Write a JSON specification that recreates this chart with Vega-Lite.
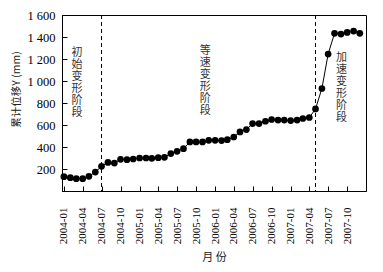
{
  "$schema": "https://vega.github.io/schema/vega-lite/v6.json",
  "width": 304,
  "height": 176,
  "autosize": {"type": "none"},
  "padding": {"left": 62, "top": 15, "right": 17, "bottom": 81},
  "background": "white",
  "config": {
    "view": {"stroke": "black", "strokeWidth": 1},
    "axis": {
      "grid": false,
      "domainColor": "black",
      "tickColor": "black",
      "labelColor": "black",
      "titleColor": "#222",
      "titleFontWeight": "normal",
      "labelFont": "Liberation Serif",
      "titleFont": "Noto Sans CJK SC",
      "labelOverlap": false,
      "tickSize": -5
    }
  },
  "datasets": {
    "main": [
      {"date": "2004-01-01", "value": 130},
      {"date": "2004-02-01", "value": 121},
      {"date": "2004-03-01", "value": 112},
      {"date": "2004-04-01", "value": 112},
      {"date": "2004-05-01", "value": 133},
      {"date": "2004-06-01", "value": 172},
      {"date": "2004-07-01", "value": 224},
      {"date": "2004-08-01", "value": 260},
      {"date": "2004-09-01", "value": 254},
      {"date": "2004-10-01", "value": 288},
      {"date": "2004-11-01", "value": 285},
      {"date": "2004-12-01", "value": 291},
      {"date": "2005-01-01", "value": 300},
      {"date": "2005-02-01", "value": 300},
      {"date": "2005-03-01", "value": 297},
      {"date": "2005-04-01", "value": 303},
      {"date": "2005-05-01", "value": 306},
      {"date": "2005-06-01", "value": 340},
      {"date": "2005-07-01", "value": 361},
      {"date": "2005-08-01", "value": 385},
      {"date": "2005-09-01", "value": 446},
      {"date": "2005-10-01", "value": 446},
      {"date": "2005-11-01", "value": 446},
      {"date": "2005-12-01", "value": 461},
      {"date": "2006-01-01", "value": 461},
      {"date": "2006-02-01", "value": 458},
      {"date": "2006-03-01", "value": 467},
      {"date": "2006-04-01", "value": 491},
      {"date": "2006-05-01", "value": 537},
      {"date": "2006-06-01", "value": 558},
      {"date": "2006-07-01", "value": 613},
      {"date": "2006-08-01", "value": 613},
      {"date": "2006-09-01", "value": 634},
      {"date": "2006-10-01", "value": 650},
      {"date": "2006-11-01", "value": 645},
      {"date": "2006-12-01", "value": 645},
      {"date": "2007-01-01", "value": 640},
      {"date": "2007-02-01", "value": 645},
      {"date": "2007-03-01", "value": 659},
      {"date": "2007-04-01", "value": 668},
      {"date": "2007-05-01", "value": 746},
      {"date": "2007-06-01", "value": 932},
      {"date": "2007-07-01", "value": 1245},
      {"date": "2007-08-01", "value": 1433},
      {"date": "2007-09-01", "value": 1427},
      {"date": "2007-10-01", "value": 1442},
      {"date": "2007-11-01", "value": 1454},
      {"date": "2007-12-01", "value": 1433}
    ],
    "stages": [
      {"date": "2004-07-01"},
      {"date": "2007-05-01"}
    ],
    "labels": [
      {"date": "2004-03-04", "value": 1310, "label": "初\n始\n变\n形\n阶\n段"},
      {"date": "2005-11-14", "value": 1330, "label": "等\n速\n变\n形\n阶\n段"},
      {"date": "2007-09-04", "value": 1265, "label": "加\n速\n变\n形\n阶\n段"}
    ]
  },
  "encoding": {
    "x": {
      "field": "date",
      "type": "temporal",
      "scale": {"type": "utc", "domain": [{"year": 2003, "month": 12, "date": 23, "utc": true}, {"year": 2007, "month": 12, "date": 31, "utc": true}]},
      "axis": {
        "title": "月 份",
        "titleFontSize": 11,
        "titleY": 66,
        "titleBaseline": "middle",
        "format": "%Y-%m",
        "tickCount": {"interval": "month", "step": 3},
        "labelAngle": 270,
        "labelAlign": "right",
        "labelBaseline": "middle",
        "labelFontSize": 11,
        "labelPadding": 21,
        "labelOverlap": false
      }
    }
  },
  "layer": [
    {
      "data": {"name": "stages"},
      "mark": {"type": "rule", "color": "black", "strokeWidth": 1, "strokeDash": [4, 3]},
      "encoding": {}
    },
    {
      "data": {"name": "main"},
      "encoding": {
        "y": {
          "field": "value",
          "type": "quantitative",
          "scale": {"domain": [0, 1600]},
          "axis": {
            "title": "累计位移Y (mm)",
            "titleFontSize": 10.5,
            "titleX": -46,
            "titleY": 74,
            "titleBaseline": "middle",
            "tickCount": 8,
            "labelExpr": "datum.value == 0 ? '' : replace(format(datum.value, ','), ',', ' ')",
            "labelFontSize": 12.5,
            "labelPadding": 12,
            "labelOverlap": false
          }
        }
      },
      "layer": [
        {"mark": {"type": "line", "color": "black", "strokeWidth": 1}},
        {"mark": {"type": "point", "filled": true, "color": "black", "opacity": 1, "size": 45}}
      ]
    },
    {
      "data": {"name": "labels"},
      "mark": {"type": "text", "lineBreak": "\n", "font": "Noto Sans CJK SC", "fontSize": 11, "lineHeight": 12, "baseline": "top", "align": "center", "color": "#333"},
      "encoding": {
        "y": {"field": "value", "type": "quantitative"},
        "text": {"field": "label"}
      }
    }
  ]
}
